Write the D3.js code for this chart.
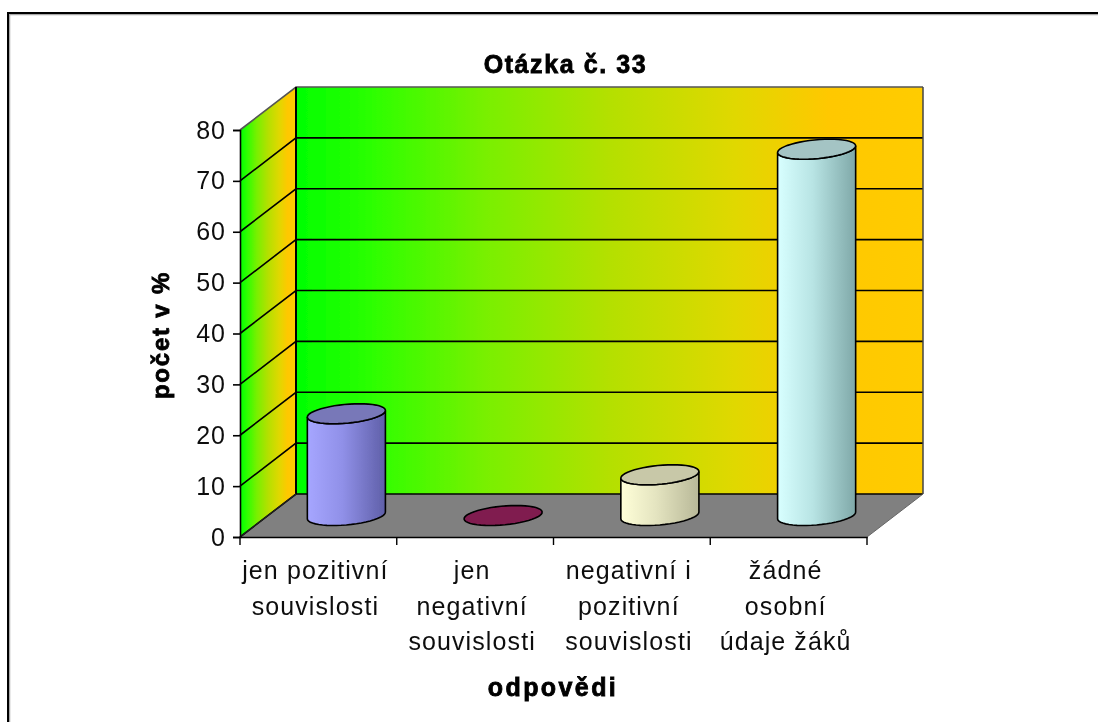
<!DOCTYPE html>
<html>
<head>
<meta charset="utf-8">
<script src="https://cdnjs.cloudflare.com/ajax/libs/d3/7.8.5/d3.min.js"></script>
<style>
  html, body { margin: 0; padding: 0; background: #fff; }
  svg { display: block; }
  text { font-family: "Liberation Sans", Arial, sans-serif; }
</style>
</head>
<body>
<svg></svg>
<script>
const width = 1098;
const height = 722;

const chartTitle = "Otázka č. 33";
const yTitle = "počet v %";
const xTitle = "odpovědi";

const categories = ["a", "b", "c", "d"];
const categoryLines = [
    ["jen pozitivní", "souvislosti"],
    ["jen", "negativní", "souvislosti"],
    ["negativní i", "pozitivní", "souvislosti"],
    ["žádné", "osobní", "údaje žáků"]
];
const values = [20, 0, 8, 72];
const yTicks = [0, 10, 20, 30, 40, 50, 60, 70, 80];
const barColors = [
    ["#a6a6ff", "#9090e8", "#5f5fa8", "#7878b8"],
    ["#99215e", "#8a1a55", "#661040", "#801a50"],
    ["#ffffd8", "#e4e4c0", "#b8b898", "#c8c8a8"],
    ["#d8ffff", "#b8e4e4", "#7fa8a8", "#a4c4c4"]
];
const wallStops = [
    [0, "#00ff00"], [0.12, "#2cff00"], [0.3, "#78f000"], [0.5, "#b4e000"],
    [0.7, "#e0d800"], [0.85, "#ffc800"], [1, "#ffcc00"]
];

// сдвиг задней стенки относительно передней плоскости
const depthX = 56;
const depthY = -43;

let svg = d3.select("svg")
    .attr("width", width)
    .attr("height", height)
    .attr("viewBox", `0 0 ${width} ${height}`);

let scaleX = d3.scaleBand().domain(categories).range([240, 867]);
let scaleY = d3.scaleLinear().domain([0, 80]).range([537, 130]);

const x0 = scaleX.range()[0];
const x1 = scaleX.range()[1];
const y0 = scaleY(0);
const yTop = scaleY(80);

let defs = svg.append("defs");

// мягкость как у увеличенной картинки
let blur = defs.append("filter").attr("id", "soft")
    .attr("x", "-2%").attr("y", "-2%").attr("width", "104%").attr("height", "104%");
blur.append("feGaussianBlur").attr("stdDeviation", 0.55);

function wallGradient(id, from, to) {
    let g = defs.append("linearGradient").attr("id", id)
        .attr("gradientUnits", "userSpaceOnUse")
        .attr("x1", from).attr("x2", to).attr("y1", 0).attr("y2", 0);
    wallStops.forEach(s => g.append("stop").attr("offset", s[0]).attr("stop-color", s[1]));
}
wallGradient("backWall", x0 + depthX, x1 + depthX);
wallGradient("sideWall", x0, x0 + depthX);

barColors.forEach((c, i) => {
    let g = defs.append("linearGradient").attr("id", `bar${i}`);
    g.append("stop").attr("offset", 0).attr("stop-color", c[0]);
    g.append("stop").attr("offset", 0.45).attr("stop-color", c[1]);
    g.append("stop").attr("offset", 1).attr("stop-color", c[2]);
});

// рамка
svg.append("path")
    .attr("d", `M9.5,${height} V14.5 H${width}`)
    .attr("fill", "none").attr("stroke", "#a8a8a8").attr("stroke-width", 1.5);
svg.append("path")
    .attr("d", `M8,${height} V13 H${width}`)
    .attr("fill", "none").attr("stroke", "#000").attr("stroke-width", 2);

let plot = svg.append("g").attr("filter", "url(#soft)");

const poly = pts => "M" + pts.map(p => p.join(",")).join("L") + "Z";

// пол
plot.append("path")
    .attr("d", poly([[x0, y0], [x1, y0], [x1 + depthX, y0 + depthY], [x0 + depthX, y0 + depthY]]))
    .attr("fill", "#808080");

// боковая стенка
plot.append("path")
    .attr("d", poly([[x0, y0], [x0, yTop], [x0 + depthX, yTop + depthY], [x0 + depthX, y0 + depthY]]))
    .attr("fill", "url(#sideWall)");

// задняя стенка
plot.append("rect")
    .attr("x", x0 + depthX).attr("y", yTop + depthY)
    .attr("width", x1 - x0).attr("height", y0 - yTop)
    .attr("fill", "url(#backWall)");

// линии сетки
plot.selectAll(".grid")
    .data(yTicks)
    .enter()
    .append("path")
    .attr("d", d => `M${x0},${scaleY(d)} L${x0 + depthX},${scaleY(d) + depthY} H${x1 + depthX}`)
    .attr("fill", "none")
    .attr("stroke", d => d == 80 ? "#555" : "#000")
    .attr("stroke-width", 1.6);

// контуры
plot.append("path")
    .attr("d", `M${x0 + depthX},${y0 + depthY} V${yTop + depthY}`)
    .attr("stroke", "#000").attr("stroke-width", 2);
plot.append("path")
    .attr("d", `M${x1 + depthX},${y0 + depthY} V${yTop + depthY}`)
    .attr("stroke", "#444").attr("stroke-width", 1.5);
plot.append("path")
    .attr("d", `M${x1},${y0} L${x1 + depthX},${y0 + depthY}`)
    .attr("stroke", "#666").attr("stroke-width", 1);
plot.append("path")
    .attr("d", `M${x0},${y0} L${x0 + depthX},${y0 + depthY}`)
    .attr("stroke", "#222").attr("stroke-width", 1.2);

// эллипс основания цилиндра: круг на полу в проекции
const radiusX = 36.8;
const skewX = 13;
const skewY = -10;

function ellipsePoint(cx, cy, t) {
    return [cx + radiusX * Math.cos(t) + skewX * Math.sin(t), cy + skewY * Math.sin(t)];
}

function ellipsePath(cx, cy) {
    let pts = d3.range(0, 2 * Math.PI, Math.PI / 24).map(t => ellipsePoint(cx, cy, t));
    return poly(pts);
}

function cylinderSide(cx, yBottom, yUpper) {
    // угол крайней правой точки эллипса
    const t0 = Math.atan2(skewX, radiusX);
    let lower = d3.range(0, 25).map(i => ellipsePoint(cx, yBottom, t0 - Math.PI * i / 24));
    let upper = d3.range(0, 25).map(i => ellipsePoint(cx, yUpper, t0 - Math.PI + Math.PI * i / 24));
    return poly(lower.concat(upper));
}

function drawBar(d, i) {
    const cx = scaleX(categories[i]) + scaleX.bandwidth() / 2 + depthX / 2;
    const yBottom = scaleY(0) + depthY / 2;
    const yUpper = scaleY(d) + depthY / 2;
    let g = d3.select(this);
    if (d > 0) {
        g.append("path")
            .attr("d", cylinderSide(cx, yBottom, yUpper))
            .attr("fill", `url(#bar${i})`)
            .attr("stroke", "#000").attr("stroke-width", 1.6);
    }
    g.append("path")
        .attr("d", ellipsePath(cx, yUpper))
        .attr("fill", barColors[i][3])
        .attr("stroke", "#000").attr("stroke-width", 1.6);
}

plot.selectAll(".bar")
    .data(values)
    .enter()
    .append("g")
    .attr("class", "bar")
    .each(drawBar);

// оси
let axisY = d3.axisLeft(scaleY).tickValues(yTicks).tickSize(7).tickPadding(7);
let gY = svg.append("g")
    .attr("transform", `translate(${x0},0)`)
    .attr("filter", "url(#soft)")
    .call(axisY);
gY.selectAll("text")
    .style("font-family", '"Liberation Sans", Arial, sans-serif')
    .style("font-size", "25px")
    .style("letter-spacing", "1px")
    .style("fill", "#111");

let axisX = d3.axisBottom(scaleX).tickValues([]).tickSizeOuter(0);
let gX = svg.append("g")
    .attr("transform", `translate(0,${y0})`)
    .attr("filter", "url(#soft)")
    .call(axisX);

// деления между категориями
const boundaries = categories.map(c => scaleX(c)).concat([x1]);
gX.selectAll(".sep")
    .data(boundaries)
    .enter()
    .append("line")
    .attr("x1", d => d).attr("x2", d => d)
    .attr("y1", 0).attr("y2", 8)
    .attr("stroke", "#000").attr("stroke-width", 1.4);

gY.selectAll("path, line").attr("stroke-width", 1.6);
gX.selectAll("path").attr("stroke-width", 1.6);

// подписи категорий
let labels = svg.append("g").attr("filter", "url(#soft)");
categoryLines.forEach((lines, i) => {
    labels.selectAll(null)
        .data(lines)
        .enter()
        .append("text")
        .attr("x", scaleX(categories[i]) + scaleX.bandwidth() / 2 - 3)
        .attr("y", (d, j) => 579 + j * 35.5)
        .attr("text-anchor", "middle")
        .style("font-size", "25px")
        .style("letter-spacing", "1.1px")
        .style("fill", "#111")
        .text(d => d);
});

// заголовки
labels.append("text")
    .attr("x", 565.5).attr("y", 73)
    .attr("text-anchor", "middle")
    .style("font-size", "25px").style("font-weight", "bold")
    .style("letter-spacing", "1.6px")
    .style("stroke", "#000").style("stroke-width", 0.8)
    .text(chartTitle);

labels.append("text")
    .attr("x", 553).attr("y", 696)
    .attr("text-anchor", "middle")
    .style("font-size", "25px").style("font-weight", "bold")
    .style("letter-spacing", "2.4px")
    .style("stroke", "#000").style("stroke-width", 0.8)
    .text(xTitle);

labels.append("text")
    .attr("transform", "translate(169,335) rotate(-90)")
    .attr("text-anchor", "middle")
    .style("font-size", "24px").style("font-weight", "bold")
    .style("letter-spacing", "1.8px")
    .style("stroke", "#000").style("stroke-width", 0.8)
    .text(yTitle);
</script>
</body>
</html>
